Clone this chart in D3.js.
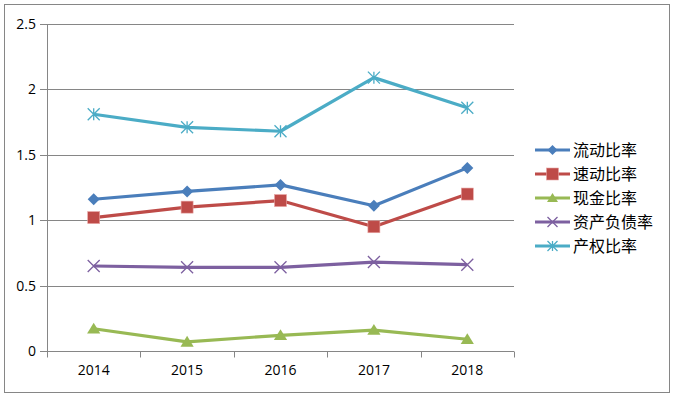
<!DOCTYPE html>
<html>
<head>
<meta charset="utf-8">
<script src="https://cdn.jsdelivr.net/npm/d3@7"></script>
<style>
  body { margin: 0; background: #fff; }
  svg { display: block; }
</style>
</head>
<body>
<svg id="chart" width="676" height="397"></svg>
<script>
// data
const years = ['2014', '2015', '2016', '2017', '2018'];
const yTicks = [0, 0.5, 1, 1.5, 2, 2.5];
const names = ['流动比率', '速动比率', '现金比率', '资产负债率', '产权比率'];
const liquidity = [1.16, 1.22, 1.27, 1.11, 1.40];
const quick = [1.02, 1.10, 1.15, 0.95, 1.20];
const cash = [0.17, 0.07, 0.12, 0.16, 0.09];
const debtRatio = [0.65, 0.64, 0.64, 0.68, 0.66];
const equityRatio = [1.81, 1.71, 1.68, 2.09, 1.86];

const colors = ['#4A7EBB', '#BE4B48', '#98B954', '#7D60A0', '#4BACC6'];
const shapes = ['diamond', 'square', 'triangle', 'x', 'star'];
const series = [liquidity, quick, cash, debtRatio, equityRatio].map((vals, i) => ({
  name: names[i], values: vals, color: colors[i], shape: shapes[i]
}));

const svg = d3.select('#chart');
const margin = {top: 24, left: 47, right: 162, bottom: 46};
const width = 676, height = 397;

// outer frame
svg.append('rect')
  .attr('x', 4.5).attr('y', 4.5)
  .attr('width', 665).attr('height', 388)
  .attr('fill', '#fff')
  .attr('stroke', '#868686');

const x = d3.scaleBand()
  .domain(years)
  .range([margin.left, width - margin.right]);

const y = d3.scaleLinear()
  .domain([0, 2.5])
  .range([height - margin.bottom, margin.top]);

const font = '"Open Sans", "Liberation Sans", sans-serif';

// gridlines + y axis
const yAxis = d3.axisLeft(y)
  .tickValues(yTicks)
  .tickSize(7)
  .tickPadding(4)
  .tickFormat(d => `${d}`);

svg.append('g')
  .attr('transform', 'translate(' + margin.left + ',0)')
  .call(g => g.selectAll('.grid')
    .data(yTicks.filter(d => d > 0))
    .enter().append('line')
    .attr('x1', 0).attr('x2', width - margin.right - margin.left)
    .attr('y1', d => Math.round(y(d)) + 0.5).attr('y2', d => Math.round(y(d)) + 0.5)
    .attr('stroke', '#868686'))
  .call(yAxis)
  .call(g => g.select('.domain').attr('stroke', '#868686'))
  .call(g => g.selectAll('.tick line').attr('stroke', '#868686'))
  .call(g => g.selectAll('.tick').attr('transform', d => 'translate(0,' + (Math.round(y(d)) + 0.5) + ')'))
  .call(g => g.selectAll('text').style('font-family', font).style('font-size', '14px').attr('fill', '#000'));

// x axis
const xAxis = d3.axisBottom(x).tickSize(0).tickPadding(14);
const xg = svg.append('g')
  .attr('transform', 'translate(0,' + (Math.round(y(0)) + 0.5) + ')')
  .call(xAxis)
  .call(g => g.select('.domain').attr('stroke', '#868686').attr('d', 'M' + margin.left + ',0H' + (width - margin.right)))
  .call(g => g.selectAll('text').style('font-family', font).style('font-size', '14px').attr('fill', '#000'));

// category boundary ticks
const bounds = years.map(d => x(d)).concat([x(years[years.length - 1]) + x.bandwidth()]);
xg.selectAll('.bt')
  .data(bounds)
  .enter().append('line')
  .attr('x1', d => Math.round(d) + 0.5).attr('x2', d => Math.round(d) + 0.5)
  .attr('y1', 0).attr('y2', 6)
  .attr('stroke', '#868686');

const cx = d => x(d) + x.bandwidth() / 2;

function marker(g, shape, color, s) {
  if (shape === 'diamond') {
    g.append('path').attr('d', `M0,${-s}L${s},0L0,${s}L${-s},0Z`).attr('fill', color);
  } else if (shape === 'square') {
    g.append('rect').attr('x', -s).attr('y', -s).attr('width', 2 * s).attr('height', 2 * s)
      .attr('fill', color).attr('stroke', '#e8a5a3').attr('stroke-width', 0.6);
  } else if (shape === 'triangle') {
    g.append('path').attr('d', `M0,${-s}L${s * 1.1},${s * 0.8}L${-s * 1.1},${s * 0.8}Z`).attr('fill', color);
  } else if (shape === 'x') {
    g.append('path').attr('d', `M${-s},${-s}L${s},${s}M${-s},${s}L${s},${-s}`)
      .attr('stroke', color).attr('stroke-width', 1.3);
  } else {
    g.append('path').attr('d', `M${-s},${-s}L${s},${s}M${-s},${s}L${s},${-s}M0,${-s}V${s}`)
      .attr('stroke', color).attr('stroke-width', 1.3);
  }
}

const line = d3.line()
  .x((d, i) => cx(years[i]))
  .y(d => y(d));

series.forEach(s => {
  svg.append('path')
    .datum(s.values)
    .attr('d', line)
    .attr('fill', 'none')
    .attr('stroke', s.color)
    .attr('stroke-width', 3.2)
    .attr('stroke-linejoin', 'round');

  s.values.forEach((v, i) => {
    const g = svg.append('g').attr('transform', 'translate(' + cx(years[i]) + ',' + y(v) + ')');
    marker(g, s.shape, s.color, 6);
  });
});

// legend
const legend = svg.append('g').attr('transform', 'translate(535,150)');
series.forEach((s, i) => {
  const g = legend.append('g').attr('transform', 'translate(0,' + (i * 24) + ')');
  g.append('line').attr('x1', 0).attr('x2', 35).attr('y1', 0).attr('y2', 0)
    .attr('stroke', s.color).attr('stroke-width', 3.2);
  const m = g.append('g').attr('transform', 'translate(17.5,0)');
  marker(m, s.shape, s.color, s.shape === 'square' ? 6 : 5);
  g.append('text')
    .attr('x', 38).attr('y', 0).attr('dy', '0.36em')
    .style('font-family', '"Noto Sans CJK SC", sans-serif')
    .style('font-size', '16px')
    .attr('fill', '#000')
    .text(s.name);
});
</script>
</body>
</html>
